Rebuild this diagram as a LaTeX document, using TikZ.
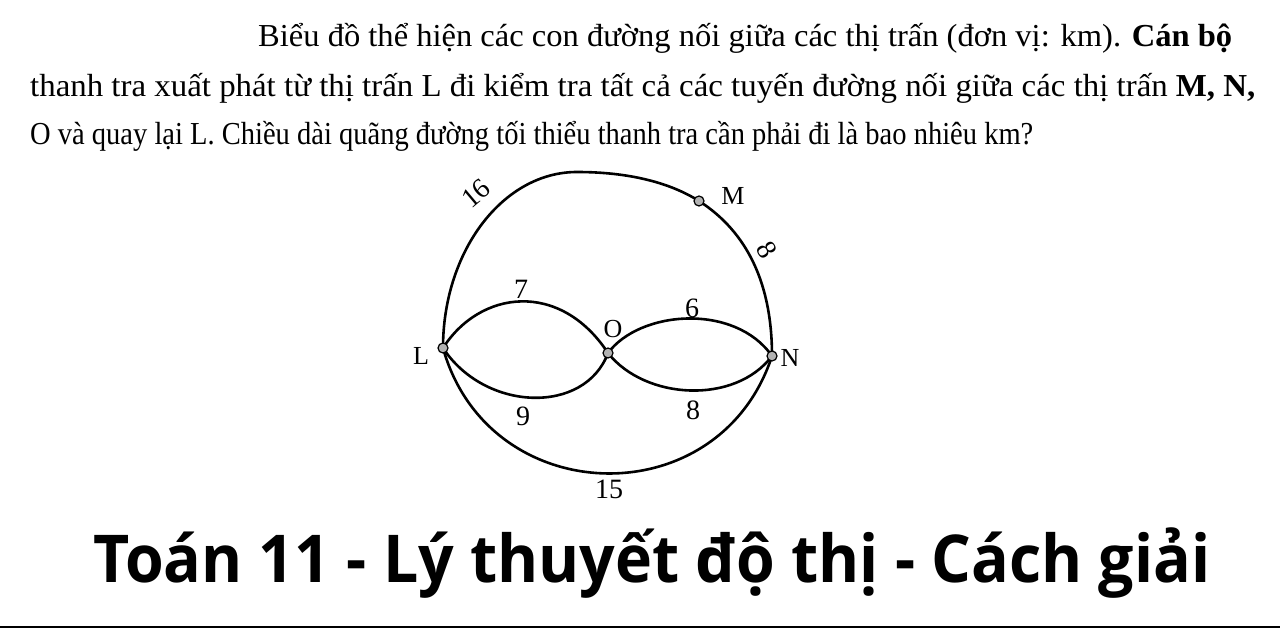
\documentclass[tikz,border=0pt]{standalone}
\usepackage{fontspec}
\setmainfont{Liberation Serif}
\newfontfamily\titlefont{Open Sans}
\pgfdeclarelayer{bg}
\pgfdeclarelayer{paper}
\pgfsetlayers{paper,bg,main}
\tikzset{
  town/.style={circle, draw=black, fill=black!30, line width=1.2pt, inner sep=0pt, minimum size=10pt},
  road/.style={line width=2.6pt, black},
  lbl/.style={font=\fontsize{26}{26}\selectfont, inner sep=0pt},
  wt/.style={font=\fontsize{28}{28}\selectfont, inner sep=0pt},
  qline/.style={anchor=base west, inner sep=0pt, font=\fontsize{32}{32}\selectfont}
}
\begin{document}
\begin{tikzpicture}[x=1pt,y=-1pt]
\useasboundingbox (0,0) rectangle (1280,628);
\begin{pgfonlayer}{paper}
\fill[white] (0,0) rectangle (1280,628);
\end{pgfonlayer}

% question text
\node[qline] (q1) at (258,47) {\resizebox{974pt}{\height}{Biểu đồ thể hiện các con đường nối giữa các thị trấn (đơn vị: km). \textbf{Cán bộ}}};
\node[qline] (q2) at (30,97) {\resizebox{1225pt}{\height}{thanh tra xuất phát từ thị trấn L đi kiểm tra tất cả các tuyến đường nối giữa các thị trấn \textbf{M, N,}}};
\node[qline] (q3) at (30,145) {\resizebox{1003pt}{\height}{O và quay lại L. Chiều dài quãng đường tối thiểu thanh tra cần phải đi là bao nhiêu km?}};

% towns
\node[town] (L) at (443,348) {};
\node[town] (O) at (608,353) {};
\node[town] (N) at (772,356) {};
\node[town] (M) at (699,201) {};
\coordinate (T) at (577,172);

% roads
\begin{pgfonlayer}{bg}
\draw[road] (L.center) .. controls (443,251) and (503,172) .. (T)
  .. controls (627.8,172) and (669.2,182.2) .. (M.center);
\draw[road] (M.center) .. controls (747.5,232.2) and (772,284) .. (N.center);
\draw[road] (L.center) .. controls (488.5,510.9) and (719.4,516.9) .. (N.center);
\draw[road] (L.center) .. controls (480,290) and (560,280) .. (O.center);
\draw[road] (L.center) .. controls (485,412) and (585,415) .. (O.center);
\draw[road] (O.center) .. controls (640,310) and (735,303) .. (N.center);
\draw[road] (O.center) .. controls (645,400) and (735,405) .. (N.center);
\end{pgfonlayer}

% labels
\node[lbl] (lL) at (421,356) {L};
\node[lbl] (lO) at (613,329) {O};
\node[lbl] (lN) at (790,358) {N};
\node[lbl] (lM) at (733,196) {M};
\node[wt, rotate=40] (w16) at (476,194) {16};
\node[wt, rotate=-60] (w8a) at (767,250) {8};
\node[wt] (w7) at (521,289) {7};
\node[wt] (w6) at (692,308) {6};
\node[wt] (w9) at (523,416) {9};
\node[wt] (w8b) at (693,410) {8};
\node[wt] (w15) at (609,489) {15};

% title
\node[anchor=base west, inner sep=0pt] (title) at (93,582) {\resizebox{1117pt}{\height}{\titlefont\bfseries\fontsize{66}{66}\selectfont Toán 11 - Lý thuyết độ thị - Cách giải}};
\fill[black] (0,625.5) rectangle (1280,628);
\end{tikzpicture}
\end{document}
